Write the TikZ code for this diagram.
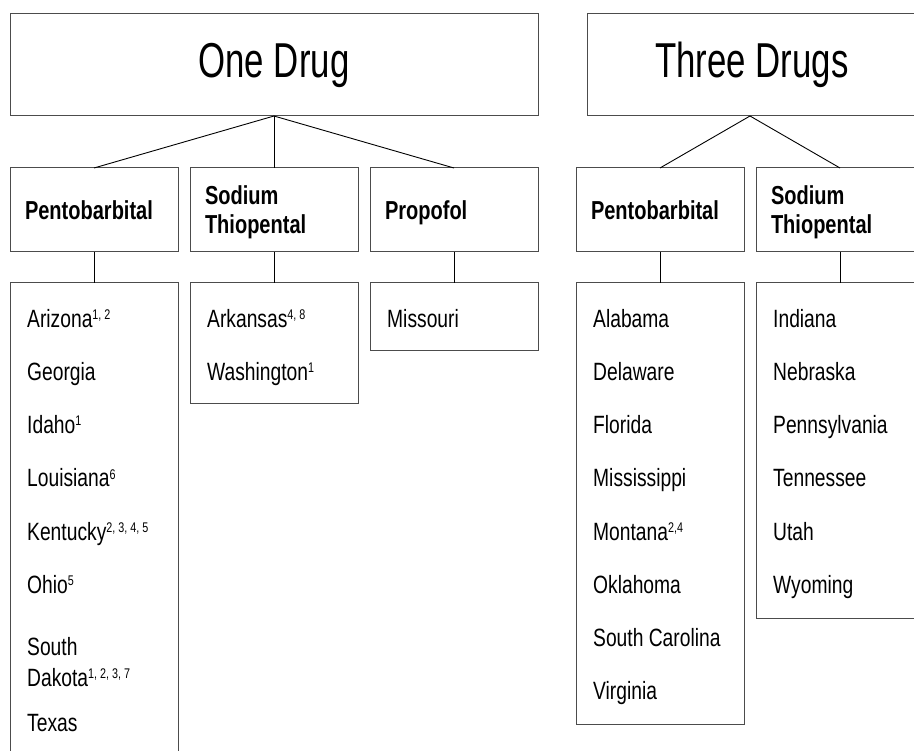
\documentclass[tikz,border=0pt]{standalone}
\usepackage{fontspec}
\setmainfont[FakeStretch=0.77]{Liberation Sans}
\newfontfamily\titlefont[FakeStretch=0.71]{Liberation Sans}
\newcommand\supn[1]{\raisebox{8pt}{\fontsize{14}{14}\selectfont #1}}
\tikzset{
 box/.style={draw=black!70, line width=1pt, anchor=north west, inner sep=0pt, outer sep=0pt},
 ttl/.style={box, font=\titlefont\fontsize{49}{49}\selectfont, minimum height=102pt},
 head/.style={box, minimum width=168pt, minimum height=84pt, text width=138pt, inner xsep=15pt, align=left, text height=19pt, text depth=0pt, font=\bfseries\fontsize{26}{29}\selectfont},
 head2/.style={head, text depth=29pt},
 lst/.style={box, minimum width=168pt},
 item/.style={anchor=base west, inner sep=0pt, font=\fontsize{25}{31}\selectfont, align=left},
 conn/.style={draw=black, line width=0.9pt}
}
\begin{document}
\begin{tikzpicture}[x=1pt,y=-1pt]
\useasboundingbox (0,0) rectangle (914,751);
\clip (0,0) rectangle (914,751);
% titles
\node[ttl, minimum width=528pt] (one) at (10,14) {One Drug};
\node[ttl, minimum width=330pt] (three) at (587,14) {Three Drugs};
% headings
\node[head] (h1) at (10,168) {Pentobarbital};
\node[head2] (h2) at (190,168) {Sodium\\Thiopental};
\node[head] (h3) at (370,168) {Propofol};
\node[head] (h4) at (576,168) {Pentobarbital};
\node[head2] (h5) at (756,168) {Sodium\\Thiopental};
% list boxes
\node[lst, minimum height=500pt] (l1) at (10,283) {};
\node[lst, minimum height=121pt] (l2) at (190,283) {};
\node[lst, minimum height=68pt] (l3) at (370,283) {};
\node[lst, minimum height=441pt] (l4) at (576,283) {};
\node[lst, minimum height=335pt] (l5) at (756,283) {};
% connectors
\draw[conn] (one.south) -- (h1.north);
\draw[conn] (one.south) -- (h2.north);
\draw[conn] (one.south) -- (h3.north);
\draw[conn] ([xshift=-2pt]three.south) -- (h4.north);
\draw[conn] ([xshift=-2pt]three.south) -- (h5.north);
\draw[conn] (h1.south) -- (l1.north);
\draw[conn] (h2.south) -- (l2.north);
\draw[conn] (h3.south) -- (l3.north);
\draw[conn] (h4.south) -- (l4.north);
\draw[conn] (h5.south) -- (l5.north);
% list 1
\node[item] (az) at (27,328) {Arizona\supn{1, 2}};
\node[item] (ga) at (27,381) {Georgia};
\node[item] (id) at (27,434) {Idaho\supn{1}};
\node[item] (la) at (27,487) {Louisiana\supn{6}};
\node[item] (ky) at (27,540) {Kentucky\supn{2, 3, 4, 5}};
\node[item] (oh) at (27,593) {Ohio\supn{5}};
\node[item] (sd) at (27,686) {South\\Dakota\supn{1, 2, 3, 7}};
\node[item] (tx) at (27,731) {Texas};
% list 2
\node[item] (ar) at (207,328) {Arkansas\supn{4, 8}};
\node[item] (wa) at (207,381) {Washington\supn{1}};
% list 3
\node[item] (mo) at (387,328) {Missouri};
% list 4
\node[item] (al) at (593,328) {Alabama};
\node[item] (de) at (593,381) {Delaware};
\node[item] (fl) at (593,434) {Florida};
\node[item] (ms) at (593,487) {Mississippi};
\node[item] (mt) at (593,540) {Montana\supn{2,4}};
\node[item] (ok) at (593,593) {Oklahoma};
\node[item] (sc) at (593,646) {South Carolina};
\node[item] (va) at (593,699) {Virginia};
% list 5
\node[item] (in) at (773,328) {Indiana};
\node[item] (ne) at (773,381) {Nebraska};
\node[item] (pa) at (773,434) {Pennsylvania};
\node[item] (tn) at (773,487) {Tennessee};
\node[item] (ut) at (773,540) {Utah};
\node[item] (wy) at (773,593) {Wyoming};
\end{tikzpicture}
\end{document}
